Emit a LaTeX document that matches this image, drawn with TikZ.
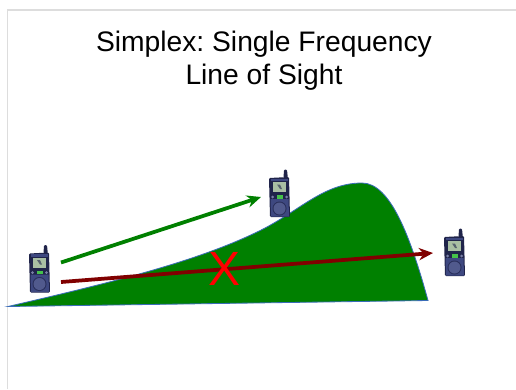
\documentclass[tikz,border=0pt]{standalone}
\usepackage{fontspec}
\setmainfont{Liberation Sans}
\usetikzlibrary{arrows.meta}
\frenchspacing
\definecolor{framegray}{HTML}{DDDDDD}
\definecolor{hillgreen}{HTML}{008000}
\definecolor{hillblue}{HTML}{3A6CB8}
\definecolor{darkred}{HTML}{800000}
\definecolor{phonedark}{HTML}{20244A}
\definecolor{phoneblue}{HTML}{3E4880}
\definecolor{phonescreen}{HTML}{A9BFA3}
\definecolor{phonekey}{HTML}{45C24A}
\tikzset{
  title/.style={font=\fontsize{24.1}{28.2}\selectfont,text=black,align=center},
  crossmark/.style={font=\fontsize{41}{41}\selectfont,text=red,inner sep=0pt},
  frameline/.style={draw=framegray,line width=1.7pt},
  hill/.style={draw=hillblue,fill=hillgreen,line width=0.7pt},
  arrgreen/.style={-{Stealth[length=12pt,width=10.5pt]},draw=hillgreen,line width=3.2pt},
  arrred/.style={-{Stealth[length=12pt,width=10.5pt]},draw=darkred,line width=3.2pt},
  phone/.pic={
    \fill[phonedark,rounded corners=1pt] (14.5,1) -- (15,-7.5) -- (18,-7.5) -- (18.8,1) -- cycle;
    \fill[phonedark,rounded corners=1pt] (0,1) -- (20,0) -- (21,40) -- (1,40) -- cycle;
    \fill[phoneblue] (1.5,22) -- (19.5,22) -- (20,39.5) -- (2,39.5) -- cycle;
    \fill[phonedark!70!phoneblue] (10.5,31.5) circle (7);
    \fill[phoneblue!90!white] (10.5,31.5) circle (6);
    \fill[phoneblue] (2,1.5) rectangle (19,4);
    \fill[phonescreen] (4,5) rectangle (16.5,15);
    \fill[phonedark!60!phonescreen] (8,7.5) -- (11,7.5) -- (13,12) -- (11,12) -- cycle;
    \fill[phonekey] (7.5,18) rectangle (13.5,21.5);
    \fill[phoneblue!70!white] (3.5,20) circle (1.5);
    \fill[phoneblue!70!white] (17.5,20) circle (1.5);
  }
}
\begin{document}
\begin{tikzpicture}[x=0.03cm,y=-0.03cm]
\path[use as bounding box] (0,0) rectangle (516,389);
\draw[frameline] (7.5,389)--(7.5,10)--(516,10);
\node[title] (heading) at (264,61) {Simplex: Single Frequency\\Line of Sight};
% hill
\draw[hill] (8,306.5) .. controls (100,285) and (190,264) .. (255,233) .. controls (298,213) and (322,183) .. (362,183) .. controls (390,183) and (410,235) .. (428,300.5) -- cycle;
% phones
\pic (phoneleft) at (29,252.5) {phone};
\pic (phonetop) at (269,177) {phone};
\pic (phoneright) at (444,236) {phone};
% links
\coordinate (greenstart) at (61,262.5); \coordinate (greenend) at (261,197);
\coordinate (redstart) at (61,282); \coordinate (redend) at (433,253);
\draw[arrgreen] (greenstart)--(greenend);
\draw[arrred] (redstart)--(redend);
\node[crossmark] (blocked) at (224.5,269) {X};
\end{tikzpicture}
\end{document}
